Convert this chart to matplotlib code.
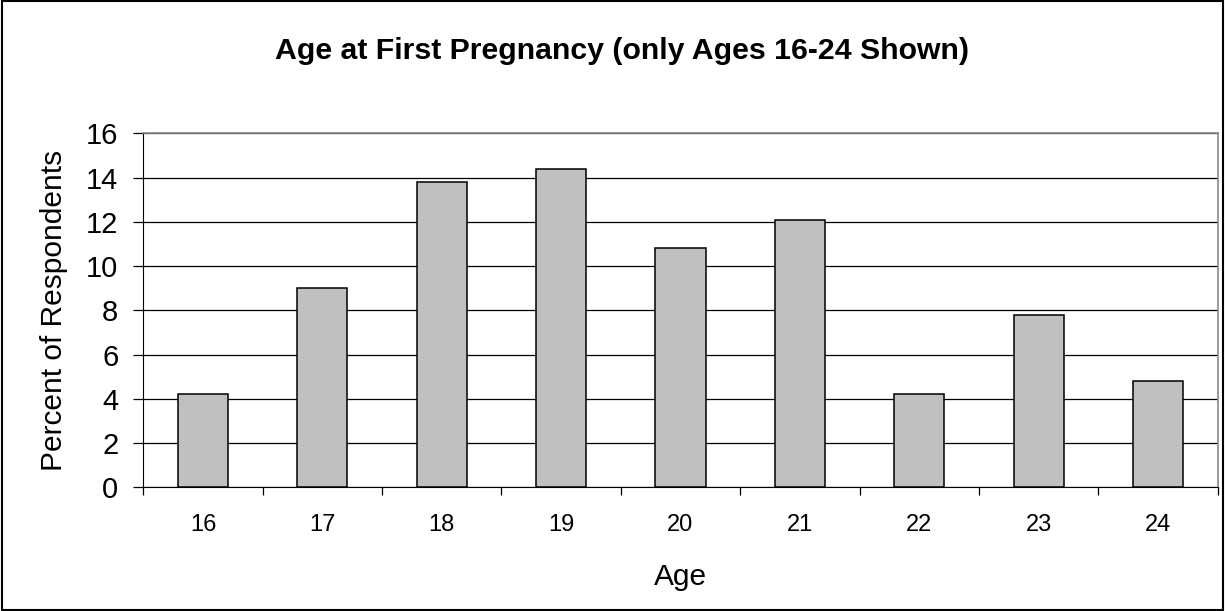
import matplotlib
matplotlib.use('Agg')
import matplotlib.pyplot as plt
import numpy as np

plt.rcParams['font.family'] = ['Liberation Sans', 'DejaVu Sans']

# data
ages = ['16', '17', '18', '19', '20', '21', '22', '23', '24']
percent = [4.2, 9.0, 13.8, 14.4, 10.8, 12.1, 4.2, 7.8, 4.8]

fig = plt.figure(figsize=(12.25, 6.11), dpi=100)
ax = fig.add_axes([0.117, 0.2025, 0.877, 0.5793])

x = np.arange(len(ages))
ax.bar(x, percent, width=0.42, color='#c0c0c0', edgecolor='black', linewidth=1.1, zorder=3)

ax.set_xlim(-0.5, len(ages) - 0.5)
ax.set_ylim(0, 16)
ax.set_yticks(range(0, 17, 2))
ax.yaxis.grid(True, color='black', linewidth=0.9, zorder=0)

# x ticks sit between categories, labels centred under bars
ax.set_xticks(np.arange(-0.5, len(ages), 1.0))
ax.set_xticklabels([])
ax.set_xticks(x, minor=True)
ax.set_xticklabels(ages, minor=True, fontsize=17)
ax.tick_params(axis='x', which='major', direction='out', length=5.5, width=0.9, color='black')
ax.tick_params(axis='x', which='minor', length=0, pad=19)
ax.tick_params(axis='y', direction='out', length=7, width=0.9, labelsize=21, pad=11)

for s in ['top', 'right']:
    ax.spines[s].set_color('#888888')
    ax.spines[s].set_linewidth(1.2)
ax.spines['left'].set_color('black')
ax.spines['bottom'].set_color('black')

ax.set_xlabel('Age', fontsize=21.5, labelpad=20)
ax.set_ylabel('Percent of Respondents', fontsize=21.5, labelpad=13)
fig.text(0.508, 0.916, 'Age at First Pregnancy (only Ages 16-24 Shown)',
         ha='center', va='center', fontsize=21.8, fontweight='bold')

# outer chart border
fig.patches.append(plt.Rectangle((0.002, 0.002), 0.996, 0.996, transform=fig.transFigure,
                                 fill=False, edgecolor='black', linewidth=1.5))

fig.savefig('out.png', dpi=100)
